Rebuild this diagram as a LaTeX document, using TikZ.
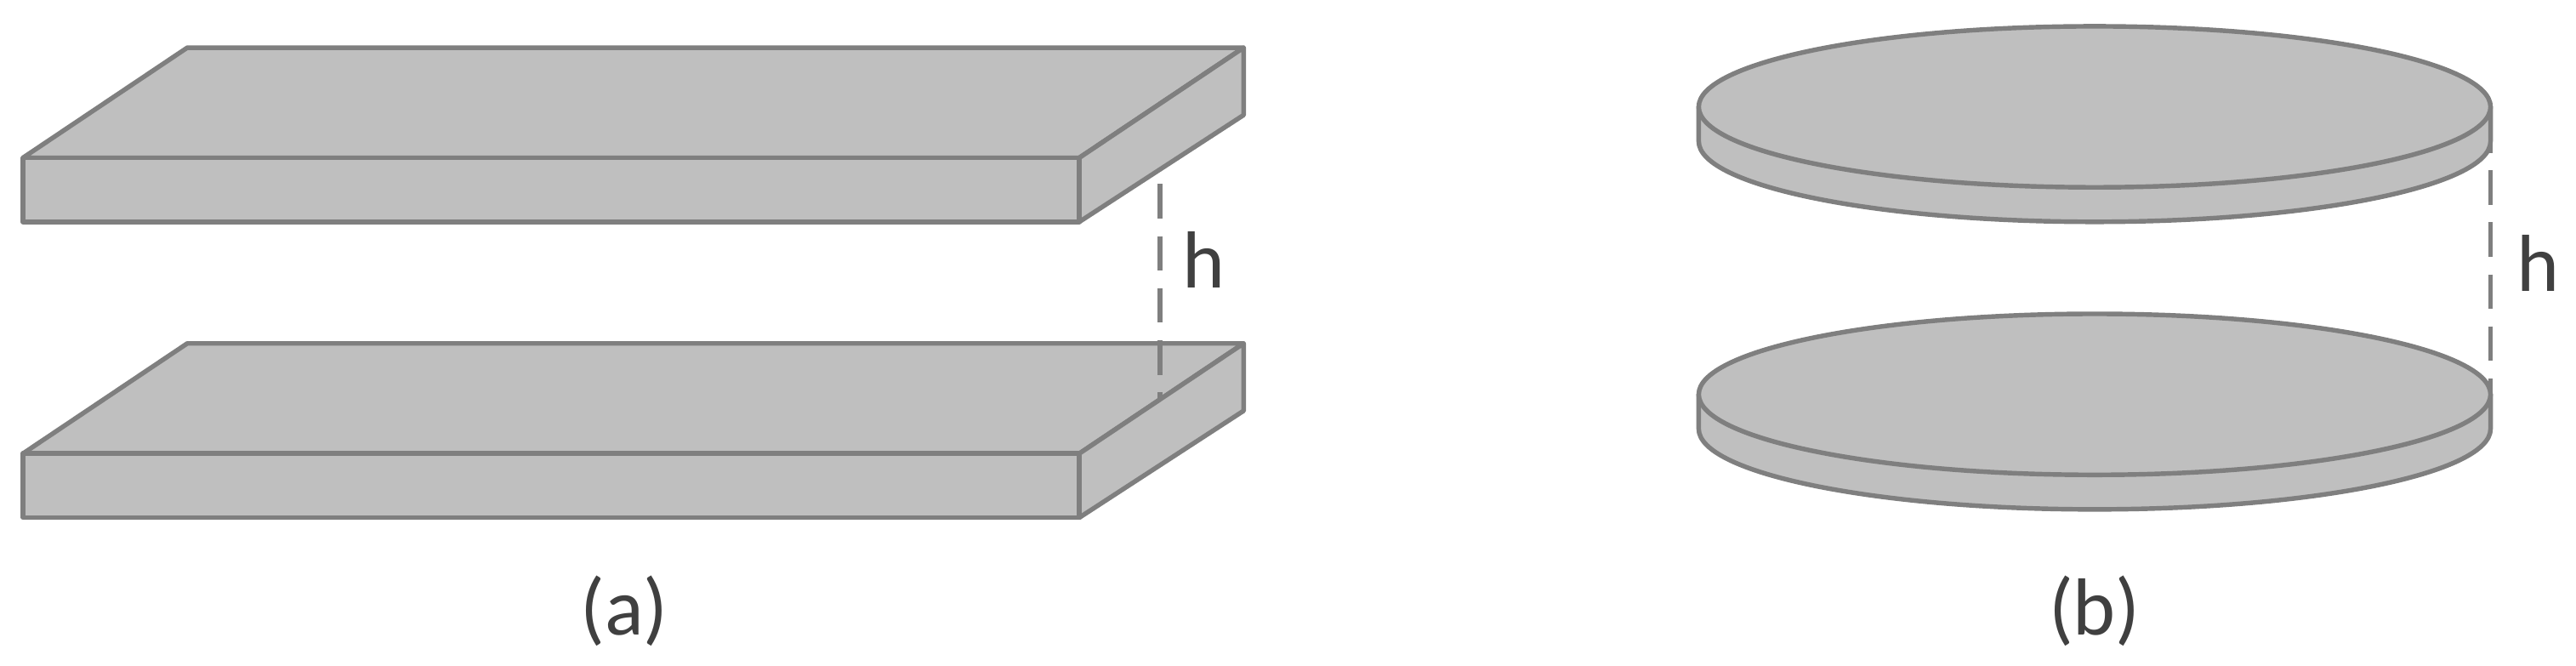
\documentclass[tikz,border=0pt]{standalone}
\usepackage{fontspec}
\setmainfont{Carlito}
\definecolor{plate}{HTML}{BFBFBF}
\definecolor{edge}{HTML}{7F7F7F}
\definecolor{txt}{HTML}{404040}
\begin{document}
\begin{tikzpicture}[x=0.01cm,y=-0.01cm,
  face/.style={fill=plate,draw=edge,line width=0.8pt,line join=round},
  dim/.style={draw=edge,line width=0.8pt,dash pattern=on 6pt off 3pt},
  lab/.style={text=txt,font=\fontsize{14}{16}\selectfont,inner sep=0}]
\useasboundingbox (0,0) rectangle (1568,405);
% (a) plates
\foreach \t in {0,180}{
\begin{scope}[yshift=-\t*0.01cm]
\draw[face] (14,96) -- (114,29) -- (757,29) -- (657,96) -- cycle;
\draw[face] (657,96) -- (757,29) -- (757,70) -- (657,135) -- cycle;
\draw[face] (14,96) rectangle (657,135);
\end{scope}}
\coordinate (a1) at (706,112); \coordinate (a2) at (706,242);
\draw[dim] (a1) -- (a2);
\node[lab] (ha) at (733,158) {h};
\node[lab] (la) at (380,372) {(a)};
% (b) discs
\foreach \c in {65,240}{
\begin{scope}[yshift=-\c*0.01cm]
\draw[face] (1034,0) -- (1034,21) arc[start angle=180,end angle=0,x radius=241,y radius=49] -- (1516,0) -- cycle;
\draw[face] (1275,0) ellipse[x radius=241,y radius=49];
\end{scope}}
\coordinate (b1) at (1516,72); \coordinate (b2) at (1516,252);
\draw[dim] (b1) -- (b2);
\node[lab] (hb) at (1545,160) {h};
\node[lab] (lb) at (1275,372) {(b)};
\end{tikzpicture}
\end{document}
